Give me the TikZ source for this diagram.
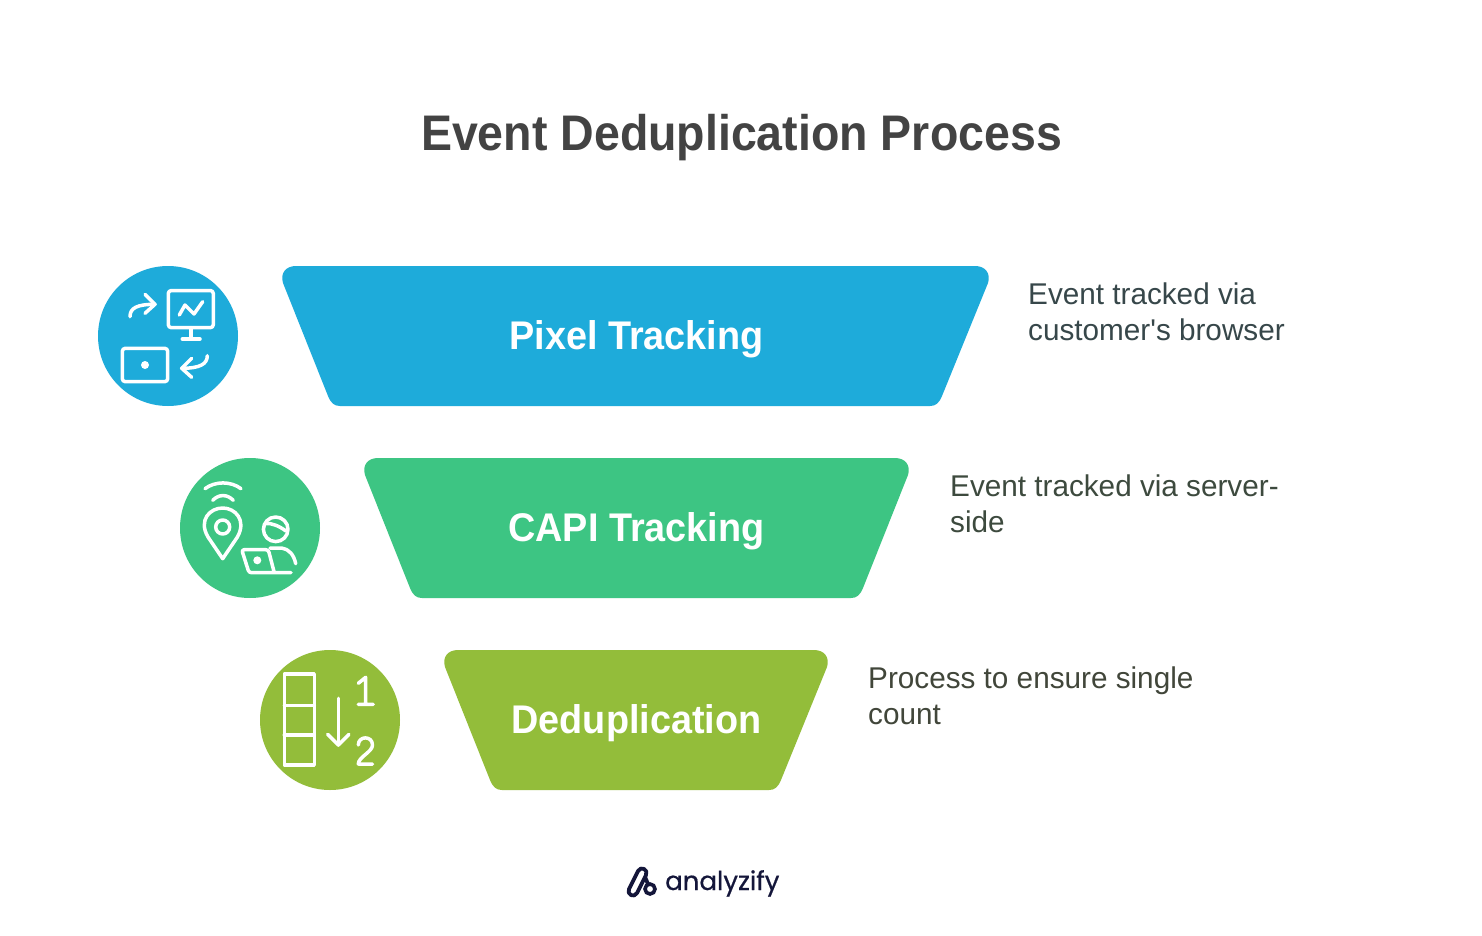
\documentclass[tikz,border=0pt]{standalone}
\usepackage{fontspec}
\setmainfont{Liberation Sans}
\newfontfamily\descfont[FakeStretch=0.99]{Liberation Sans}
\newfontfamily\titlefont[FakeStretch=0.93]{Liberation Sans Bold}
\newfontfamily\bannerfont[FakeStretch=0.945]{Liberation Sans Bold}
\newfontfamily\logofont[FakeBold=0.6]{Poppins}
\definecolor{cblue}{HTML}{1EABDA}
\definecolor{cgreen}{HTML}{3DC583}
\definecolor{colive}{HTML}{93BD3A}
\definecolor{ctitle}{HTML}{434343}
\definecolor{cdesc}{HTML}{37474A}
\definecolor{cdesctwo}{HTML}{3D4A3E}
\definecolor{cdescthree}{HTML}{41463A}
\definecolor{clogo}{HTML}{14163A}
\tikzset{
  icon/.style={draw=white,line width=3.5pt,line cap=round,line join=round,fill=none},
  banner/.style={text=white,font=\bannerfont\fontsize{40}{48}\selectfont,anchor=center,inner sep=0pt},
  desc/.style={font=\descfont\fontsize{30}{36}\selectfont,anchor=north west,align=left,inner sep=0pt},
}
\begin{document}
\begin{tikzpicture}[x=1pt,y=-1pt]
\useasboundingbox (0,0) rectangle (1482,936);
\fill[white] (0,0) rectangle (1482,936);
\node[font=\titlefont\fontsize{50}{60}\selectfont,text=ctitle,inner sep=0pt] (title) at (741.5,138) {Event Deduplication Process};

% funnels
\fill[cblue] (296,266) -- (975,266) .. controls (985,266) and (991,273) .. (988,283)
  -- (942,396) .. controls (939,403) and (936,406) .. (930,406)
  -- (340,406) .. controls (334,406) and (331,403) .. (328,396)
  -- (283,283) .. controls (280,273) and (286,266) .. (296,266) -- cycle;
\fill[cgreen] (378,458) -- (895,458) .. controls (905,458) and (911,465) .. (908,475)
  -- (863,588) .. controls (860,595) and (857,598) .. (851,598)
  -- (422,598) .. controls (416,598) and (413,595) .. (410,588)
  -- (365,475) .. controls (362,465) and (368,458) .. (378,458) -- cycle;
\fill[colive] (458,650) -- (814,650) .. controls (824,650) and (830,657) .. (827,667)
  -- (781,780) .. controls (778,787) and (775,790) .. (769,790)
  -- (502,790) .. controls (496,790) and (493,787) .. (490,780)
  -- (445,667) .. controls (442,657) and (448,650) .. (458,650) -- cycle;
\node[banner] (pixel) at (636.5,339) {Pixel Tracking};
\node[banner] (capi) at (636.5,531) {CAPI Tracking};
\node[banner] (dedup) at (636.5,723) {Deduplication};

% descriptions
\node[desc,text=cdesc] (d1) at (1028,283) {Event tracked via\\customer\char39 s browser};
\node[desc,text=cdesctwo] (d2) at (950,475) {Event tracked via server-\\side};
\node[desc,text=cdescthree] (d3) at (868,667) {Process to ensure single\\count};

% icon 1
\fill[cblue] (168,336) circle (70);
\draw[icon,rounded corners=3pt] (168.3,290.5) rectangle (213.3,327.7);
\draw[icon] (191,327.7) -- (191,339) (182.3,339) -- (200,339);
\draw[icon] (179.3,315) -- (185,305) -- (194,314) -- (202.7,301.7);
\draw[icon] (130,316.7) .. controls (130,308) and (137,304.3) .. (155,304.3);
\draw[icon] (145,294.3) -- (155,304.3) -- (145,313.3);
\draw[icon,rounded corners=3pt] (122.3,348.3) rectangle (167.7,381.7);
\fill[white] (145,365) circle (4);
\draw[icon] (207.3,355.7) .. controls (207.3,364) and (200,368.3) .. (181.7,368.3);
\draw[icon] (191.7,358.3) -- (181.7,368.3) -- (191.7,377.3);

% icon 2
\fill[cgreen] (250,528) circle (70);
\draw[icon] (205,488.7) .. controls (215,481) and (231,481) .. (241,488.7);
\draw[icon] (212.7,500.3) .. controls (219,494) and (227,494) .. (233.3,500.3);
\draw[icon] (222.7,558.7) -- (208,537) .. controls (198,520) and (210,508) .. (222.7,508)
   .. controls (235,508) and (247,520) .. (237.4,537) -- cycle;
\draw[icon] (222.7,527) circle (7);
\draw[icon] (275.7,529.3) circle (12.3);
\draw[icon] (265.7,523.5) .. controls (272,523) and (279,526) .. (286,531);
\draw[icon,rounded corners=2.5pt] (291,572.7) -- (274.3,572.7) -- (249,572.7) -- (241.7,549.7) -- (268.3,549.7) -- (274.3,572.7);
\fill[white] (257.3,560.3) circle (4);
\draw[icon] (270,548) -- (281.7,548) .. controls (289,549) and (294,555) .. (295.7,563.7);

% icon 3
\fill[colive] (330,720) circle (70);
\draw[icon] (284.3,674) rectangle (314.3,765);
\draw[icon] (284.3,705.7) -- (314.3,705.7) (284.3,735) -- (314.3,735);
\draw[icon] (338.3,698.3) -- (338.3,745);
\draw[icon] (327.7,734.3) -- (338.3,745) -- (349,734.3);
\draw[icon] (358.3,683.3) -- (365.7,677.3) -- (365.7,704.3) (358.3,704.3) -- (373.3,704.3);
\draw[icon] (358.3,745) .. controls (358.3,735.5) and (372.5,735.5) .. (372.5,745)
   .. controls (372.5,752) and (358.3,757) .. (358.3,764) -- (372.5,764);

% logo
\draw[clogo,line width=3.8pt,line cap=round,line join=round]
   (629,889) -- (638,871) .. controls (640.7,865.6) and (648.7,869.6) .. (646,875)
   -- (637,893) .. controls (634.3,898.4) and (626.3,894.4) .. (629,889) -- cycle;
\draw[clogo,line width=3.8pt,line cap=round] (645,877) -- (648,884);
\draw[clogo,line width=3.6pt] (650,889) circle (5);
\node[font=\logofont\fontsize{26}{30}\selectfont,text=clogo,anchor=base west,inner sep=0pt] (logo) at (665,890) {analyzify};
\end{tikzpicture}
\end{document}
